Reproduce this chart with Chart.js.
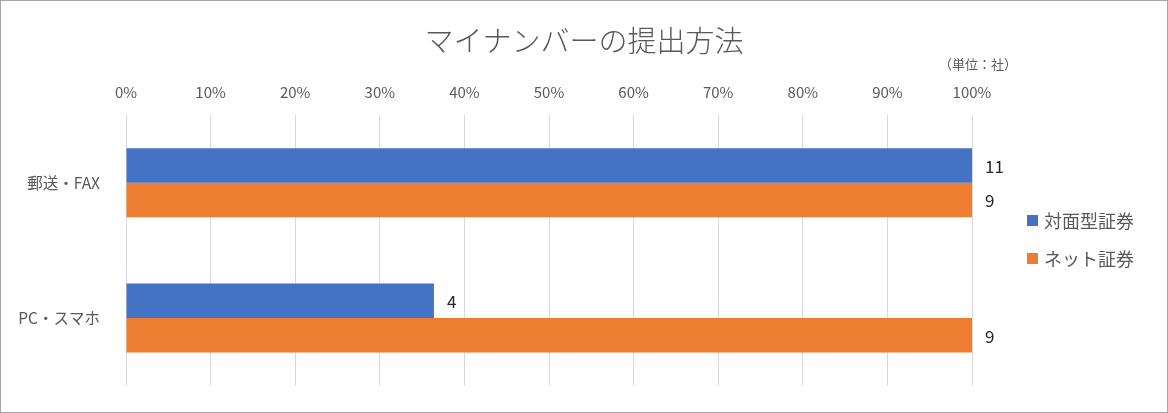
<!DOCTYPE html>
<html>
<head>
<meta charset="utf-8">
<script src="https://cdn.jsdelivr.net/npm/chart.js@4/dist/chart.umd.min.js"></script>
<style>
  html, body { margin: 0; padding: 0; background: #fff; }
  #wrap { width: 1168px; height: 413px; }
</style>
</head>
<body>
<div id="wrap"><canvas id="c" width="1168" height="413"></canvas></div>
<script>
const categories = ['郵送・FAX', 'PC・スマホ'];
const seriesNames = ['対面型証券', 'ネット証券'];
const taimenPct = [100, 36.4];
const netPct = [100, 100];
const taimenCounts = [11, 4];
const netCounts = [9, 9];
const tickValues = [0, 10, 20, 30, 40, 50, 60, 70, 80, 90, 100];
const titleText = 'マイナンバーの提出方法';
const unitText = '（単位：社）';

const FONT = '"Noto Sans CJK JP", "Noto Sans", sans-serif';
const GREY = '#595959';
const colors = ['#4472C4', '#ED7D31'];

const decor = {
  id: 'decor',
  afterDatasetsDraw(chart) {
    const ctx = chart.ctx;
    const countsList = [taimenCounts, netCounts];
    ctx.save();
    ctx.font = '17px ' + FONT;
    ctx.fillStyle = '#262626';
    ctx.textAlign = 'left';
    ctx.textBaseline = 'middle';
    chart.data.datasets.forEach((ds, i) => {
      const meta = chart.getDatasetMeta(i);
      meta.data.forEach((bar, j) => {
        ctx.fillText(String(countsList[i][j]), bar.x + 13, bar.y + 1);
      });
    });
    ctx.restore();
  },
  afterDraw(chart) {
    const ctx = chart.ctx;
    ctx.save();
    // title
    ctx.font = '300 29px ' + FONT;
    ctx.fillStyle = GREY;
    ctx.textAlign = 'center';
    ctx.textBaseline = 'middle';
    ctx.fillText(titleText, 584, 41);
    // unit
    ctx.font = '13px ' + FONT;
    ctx.fillText(unitText, 978, 64);
    // legend
    ctx.font = '18px ' + FONT;
    ctx.textAlign = 'left';
    const ly = [221, 259];
    seriesNames.forEach((name, i) => {
      ctx.fillStyle = colors[i];
      ctx.fillRect(1027, ly[i] - 6, 11, 11);
      ctx.fillStyle = GREY;
      ctx.fillText(name, 1044, ly[i]);
    });
    // border
    ctx.strokeStyle = '#a6a6a6';
    ctx.lineWidth = 1;
    ctx.strokeRect(0.5, 0.5, 1167, 412);
    ctx.restore();
  }
};

new Chart(document.getElementById('c'), {
  type: 'bar',
  data: {
    labels: categories,
    datasets: [
      { label: seriesNames[0], data: taimenPct, backgroundColor: colors[0] },
      { label: seriesNames[1], data: netPct, backgroundColor: colors[1] }
    ]
  },
  options: {
    indexAxis: 'y',
    responsive: false,
    animation: false,
    devicePixelRatio: 1,
    layout: { padding: { left: 0, right: 196, top: 0, bottom: 23 } },
    datasets: { bar: { barPercentage: 1, categoryPercentage: 0.51 } },
    plugins: { legend: { display: false }, title: { display: false }, tooltip: { enabled: false } },
    scales: {
      x: {
        position: 'top',
        min: 0, max: 100,
        afterFit(s) { s.height = 115; },
        afterBuildTicks(s) { s.ticks = tickValues.map(v => ({ value: v })); },
        grid: { color: '#d9d9d9', lineWidth: 1, drawTicks: false },
        border: { display: false },
        ticks: {
          padding: 14,
          color: GREY,
          font: { family: FONT, size: 15 },
          callback: v => v + '%'
        }
      },
      y: {
        afterFit(s) { s.width = 126; },
        grid: { display: false },
        border: { display: false },
        ticks: {
          padding: 18,
          color: GREY,
          font: { family: FONT, size: 15.5 }
        }
      }
    }
  },
  plugins: [decor]
});
</script>
</body>
</html>
